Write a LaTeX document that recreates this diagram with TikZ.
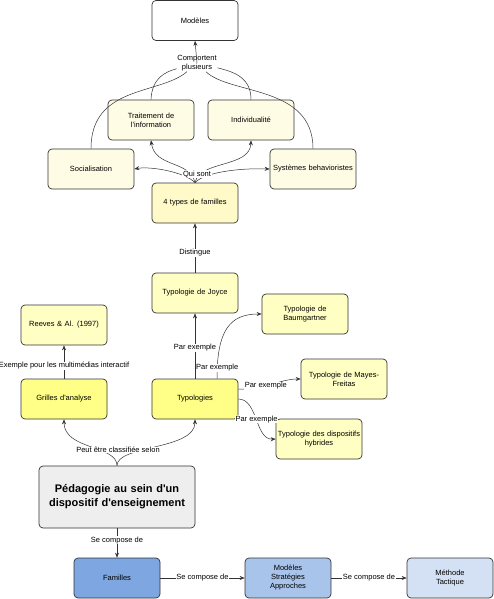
\documentclass[tikz,border=0pt]{standalone}
\usepackage{fontspec}
\setmainfont{Liberation Sans}
\usetikzlibrary{arrows.meta}

\definecolor{cream}{HTML}{FFFCE6}
\definecolor{paleyel}{HTML}{FFFAC8}
\definecolor{lightyel}{HTML}{FFFFC4}
\definecolor{yel}{HTML}{FFFF88}
\definecolor{greybox}{HTML}{EEEEEE}
\definecolor{blueA}{HTML}{7EA6E0}
\definecolor{blueB}{HTML}{A9C4EB}
\definecolor{blueC}{HTML}{D4E1F5}

\begin{document}
\begin{tikzpicture}[x=1pt,y=-1pt,
	box/.style={draw=black!80, line width=0.7pt, rounded corners=4pt, minimum width=86pt, minimum height=40pt, text width=86pt, inner sep=0pt, align=center, font=\fontsize{7.5}{9}\selectfont},
	lbl/.style={fill=white, inner sep=0.6pt, align=center, font=\fontsize{7.5}{9}\selectfont},
	arr/.style={-{Stealth[length=5pt,width=4pt]}, line width=0.5pt, draw=black!80},
	lin/.style={line width=0.5pt, draw=black!80}]
	\useasboundingbox (0,0) rectangle (494,599);

	% Boxes
	\node[box, fill=white] (m) at (195,20.5) {Modèles};
	\node[box, fill=cream] (f1) at (151,120) {Traitement de\\l\textquotesingle information};
	\node[box, fill=cream] (f2) at (251,120) {Individualité};
	\node[box, fill=cream] (f3) at (91,169) {Socialisation};
	\node[box, fill=cream] (f4) at (313,169) {Systèmes behavioristes};
	\node[box, fill=paleyel] (f) at (195,203) {4 types de familles};

	% typologies
	\node[box, fill=lightyel] (t1) at (195,293) {Typologie de Joyce};
	\node[box, fill=lightyel] (t2) at (305,314) {Typologie de\\Baumgartner};
	\node[box, fill=lightyel] (t3) at (344,379) {Typologie de Mayes-\\Freitas};
	\node[box, fill=lightyel] (t4) at (319,439) {Typologie des dispositifs\\hybrides};
	\node[box, fill=yel] (t) at (195,399) {Typologies};

	% grilles
	\node[box, fill=lightyel] (g1) at (64,325) {Reeves \& Al. (1997)};
	\node[box, fill=yel] (g) at (64,399) {Grilles d\textquotesingle analyse};

	% pedagogie
	\node[box, fill=greybox, minimum width=156pt, text width=156pt, minimum height=62pt, font=\fontsize{11}{14}\selectfont\bfseries] (p) at (117,497) {Pédagogie au sein d\textquotesingle un\\dispositif d\textquotesingle enseignement};
	\node[box, fill=blueA] (c1) at (117,578) {Familles};
	\node[box, fill=blueB] (c2) at (288,578) {Modèles\\Stratégies\\Approches};
	\node[box, fill=blueC] (c3) at (450,578) {Méthode\\Tactique};

	% Comportent plusieurs
	\node[lbl] (lm) at (197,63) {Comportent\\plusieurs};
	\draw[lin] (f3.north) .. controls (91,85) and (160,95) .. (lm);
	\draw[lin] (f1.north) .. controls (152,78) and (165,72) .. (lm);
	\draw[lin] (f2.north) .. controls (251,78) and (235,72) .. (lm);
	\draw[lin] (f4.north) .. controls (313,85) and (230,95) .. (lm);
	\draw[arr] (lm.center) -- (m.south);

	% Qui sont
	\draw[arr] (f.north) .. controls (185,172) and (150,166) .. (f3.east);
	\draw[arr] (f.north) .. controls (190,160) and (155,168) .. (f1.south);
	\draw[arr] (f.north) .. controls (200,160) and (250,168) .. (f2.south);
	\draw[arr] (f.north) .. controls (205,172) and (240,168) .. (f4.west);
	\node[lbl] (lf) at (197,174) {Qui sont};

	% Distingue / Par exemple
	\draw[arr] (t1) -- node[lbl, pos=0.4] (ld) {Distingue} (f);
	\draw[arr] (t) -- node[lbl, pos=0.47] (lt1) {Par exemple} (t1);
	\draw[arr] ([xshift=22pt]t.north) .. controls (217,330) and (230,314) .. (t2.west)
		node[lbl, pos=0.08] (lt2) {Par exemple};
	\draw[arr] ([yshift=10pt]t.east) .. controls (265,390) and (280,379) .. (t3.west)
		node[lbl, pos=0.4] (lt3) {Par exemple};
	\draw[arr] (t.east) .. controls (258,399) and (255,440) .. (t4.west)
		node[lbl, pos=0.5] (lt4) {Par exemple};

	% Exemple pour les multimedias
	\draw[arr] (g) -- node[lbl, pos=0.38] (lg) {Exemple pour les multimédias interactif} (g1);

	% Peut etre classifiee selon
	\draw[arr] (p.north) .. controls (117,445) and (64,450) .. (g.south);
	\draw[arr] (p.north) .. controls (117,445) and (195,450) .. (t.south);
	\node[lbl] (lp) at (118,450) {Peut être classifiée selon};

	% Se compose de
	\draw[arr] (p) -- node[lbl, pos=0.41] (lc1) {Se compose de} (c1);
	\draw[arr] (c1) -- node[lbl] (lc2) {Se compose de} (c2);
	\draw[arr] (c2) -- node[lbl] (lc3) {Se compose de} (c3);
\end{tikzpicture}
\end{document}
